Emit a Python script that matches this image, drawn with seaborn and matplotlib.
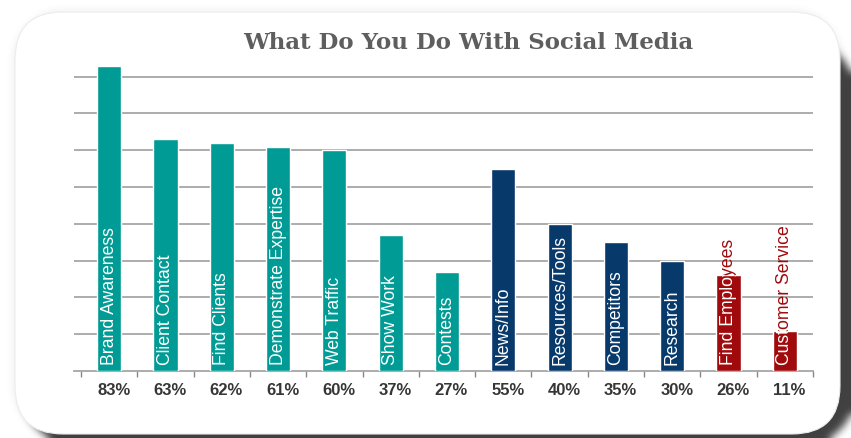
import numpy as np
import pandas as pd
import matplotlib
matplotlib.use("Agg")
import matplotlib.pyplot as plt
import seaborn as sns
from matplotlib.patches import FancyBboxPatch
from matplotlib.transforms import IdentityTransform, Bbox, TransformedBbox

# ---- data ----
categories = ["Brand Awareness", "Client Contact", "Find Clients", "Demonstrate Expertise",
              "Web Traffic", "Show Work", "Contests", "News/Info", "Resources/Tools",
              "Competitors", "Research", "Find Employees", "Customer Service"]
values = [83, 63, 62, 61, 60, 37, 27, 55, 40, 35, 30, 26, 11]
groups = ["brand", "brand", "brand", "brand", "brand", "brand", "brand",
          "info", "info", "info", "info", "hr", "hr"]
value_labels = ["83%", "63%", "62%", "61%", "60%", "37%", "27%", "55%", "40%",
                "35%", "30%", "26%", "11%"]
group_colors = {"brand": "#009b94", "info": "#07396b", "hr": "#a00a0c"}
label_colors = {"brand": "white", "info": "white", "hr": "#a00a0c"}

df = pd.DataFrame({"category": categories, "value": values, "group": groups})

sns.set_style("white")
plt.rcParams["font.family"] = ["Liberation Sans", "DejaVu Sans"]

W, H = 851, 438
fig = plt.figure(figsize=(W / 100, H / 100), dpi=100)
fig.patch.set_facecolor("white")

# ---- rounded card with soft drop shadow ----
cx0, cx1 = 15, 840          # card left / right (pixels)
ct, cb = 12, 434            # card top / bottom (pixels from top)
radius = 48


def rounded_mask(x0, x1, y0, y1, r):
    yy, xx = np.mgrid[0:H, 0:W].astype(float) + 0.5
    cx, cy = (x0 + x1) / 2, (y0 + y1) / 2
    hw, hh = (x1 - x0) / 2, (y1 - y0) / 2
    qx = np.maximum(np.abs(xx - cx) - (hw - r), 0)
    qy = np.maximum(np.abs(yy - cy) - (hh - r), 0)
    inside = (np.abs(xx - cx) <= hw) & (np.abs(yy - cy) <= hh) & (qx ** 2 + qy ** 2 <= r ** 2)
    return inside.astype(float)


def blur(img, sigma):
    n = int(3 * sigma)
    k = np.exp(-0.5 * (np.arange(-n, n + 1) / sigma) ** 2)
    k /= k.sum()
    pad = np.pad(img, n, mode="edge")
    out = np.apply_along_axis(lambda v: np.convolve(v, k, mode="valid"), 1, pad)
    out = np.apply_along_axis(lambda v: np.convolve(v, k, mode="valid"), 0, out)
    return out


halo = blur(rounded_mask(cx0, cx1, ct, cb, radius), 5) * 0.10
shadow = blur(rounded_mask(cx0 + 10, cx1 + 14, ct + 30, cb + 10, radius), 4) * 0.85
alpha = np.clip(1 - (1 - halo) * (1 - shadow), 0, 1)
rgba = np.zeros((H, W, 4))
rgba[..., :3] = 0.12
rgba[..., 3] = alpha
fig.figimage(rgba, xo=0, yo=0, origin="upper", zorder=0)

fig.patches.append(FancyBboxPatch(
    (cx0, H - cb), cx1 - cx0, cb - ct,
    boxstyle=f"round,pad=0,rounding_size={radius}",
    transform=IdentityTransform(), facecolor="white", edgecolor="#ececec",
    linewidth=0.8, zorder=1))

# ---- axes ----
ax_l, ax_r = 74, 813
ax_b = H - 371
ymax = 85
px_per_unit = 3.68
ax_t = ax_b + ymax * px_per_unit
ax = fig.add_axes([ax_l / W, ax_b / H, (ax_r - ax_l) / W, (ax_t - ax_b) / H])
ax.set_facecolor("none")
ax.set_zorder(2)

palette = [group_colors[g] for g in groups]
sns.barplot(data=df, x="category", y="value", hue="category", palette=palette,
            width=0.43, legend=False, ax=ax, saturation=1, zorder=3)

ax.set_xlim(-0.624, 12.5)
ax.set_ylim(0, ymax)
ax.set_yticks(np.arange(10, 81, 10))
ax.yaxis.grid(True, color="#a6a6a6", linewidth=1.3)
ax.set_axisbelow(True)
for s in ["top", "right", "left"]:
    ax.spines[s].set_visible(False)
ax.spines["bottom"].set_color("#a6a6a6")
ax.spines["bottom"].set_linewidth(1.3)
ax.tick_params(axis="y", left=False, labelleft=False)
ax.set_xticks(np.arange(-0.5, 12.6, 1.0))
ax.tick_params(axis="x", bottom=True, direction="out", length=4, width=1,
               color="#888888", labelbottom=False)
ax.set_xlabel("")
ax.set_ylabel("")

# ---- labels inside bars and value labels beneath ----
bars = ax.patches
for i, (cat, g, lab) in enumerate(zip(categories, groups, value_labels)):
    ax.text(i, 1.6, cat, rotation=90, ha="center", va="bottom",
            fontsize=12.7, color=label_colors[g], zorder=4)
    if label_colors[g] != "white":
        # white copy of the label, visible only where it overlaps its bar
        b = bars[i]
        box = TransformedBbox(Bbox.from_extents(b.get_x(), 0, b.get_x() + b.get_width(),
                                                b.get_height()), ax.transData)
        inner = ax.text(i, 1.6, cat, rotation=90, ha="center", va="bottom",
                        fontsize=12.7, color="white", zorder=5)
        inner.set_clip_box(box)
        inner.set_clip_on(True)
    ax.text(i + 0.08, -5.4, lab, ha="center", va="center", fontsize=12,
            fontweight="bold", color="#363636", clip_on=False)

fig.text(468 / W, 1 - 43 / H, "What Do You Do With Social Media", ha="center",
         va="center", fontsize=16.5, fontweight="bold", color="#5e5e5e",
         family="DejaVu Serif", zorder=3)

fig.savefig("out.png", dpi=100, facecolor="white")
